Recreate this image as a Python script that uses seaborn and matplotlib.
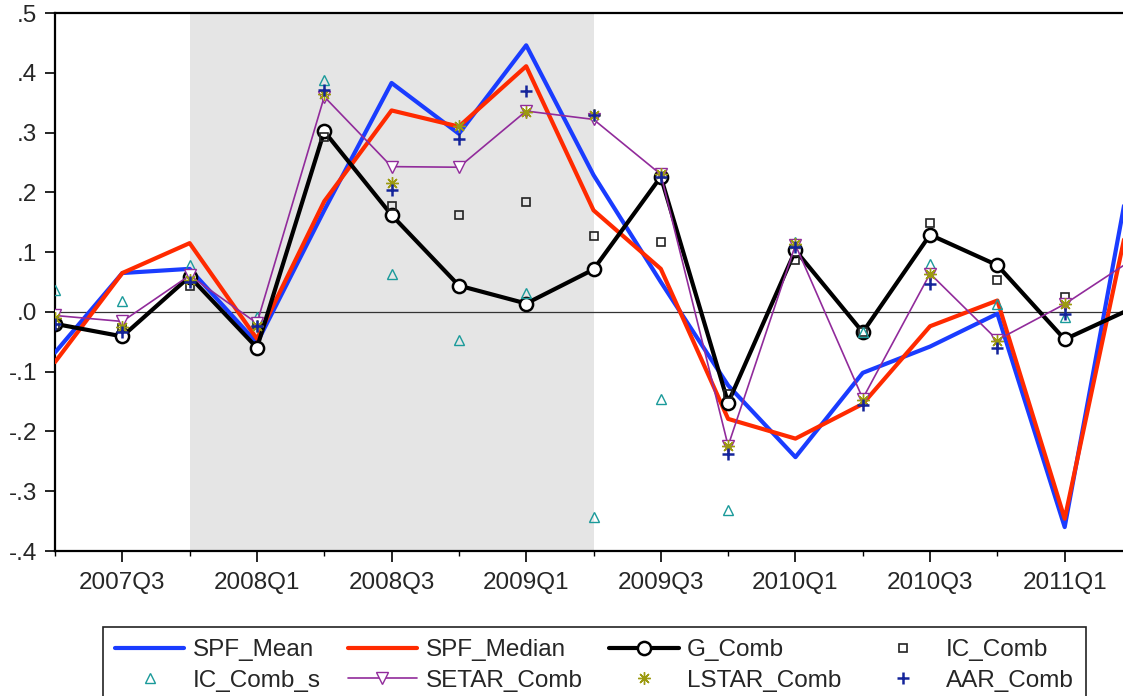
import numpy as np
import pandas as pd
import matplotlib
matplotlib.use("Agg")
import matplotlib.pyplot as plt
from matplotlib.lines import Line2D
from matplotlib.ticker import FixedLocator, FuncFormatter
import seaborn as sns

# ---------------- data ----------------
quarters = ["2007Q2", "2007Q3", "2007Q4", "2008Q1", "2008Q2", "2008Q3", "2008Q4",
            "2009Q1", "2009Q2", "2009Q3", "2009Q4", "2010Q1", "2010Q2", "2010Q3",
            "2010Q4", "2011Q1", "2011Q2"]

spf_mean = [-0.068, 0.065, 0.072, -0.052, 0.170, 0.383, 0.298, 0.446, 0.229, 0.050,
            -0.123, -0.243, -0.102, -0.058, -0.003, -0.360, 0.250]
spf_median = [-0.084, 0.065, 0.115, -0.045, 0.185, 0.337, 0.310, 0.411, 0.170, 0.072,
              -0.179, -0.212, -0.154, -0.024, 0.019, -0.346, 0.184]
g_comb = [-0.020, -0.041, 0.059, -0.060, 0.302, 0.162, 0.044, 0.014, 0.071, 0.226,
          -0.152, 0.103, -0.034, 0.129, 0.078, -0.046, 0.006]
ic_comb = [-0.022, -0.027, 0.044, -0.020, 0.293, 0.177, 0.162, 0.184, 0.127, 0.117,
           -0.137, 0.086, -0.034, 0.149, 0.053, 0.025]
ic_comb_s = [0.037, 0.019, 0.079, -0.009, 0.388, 0.064, -0.047, 0.031, -0.343, -0.145,
             -0.332, 0.117, -0.034, 0.080, 0.014, -0.008]
setar_comb = [-0.006, -0.016, 0.061, -0.019, 0.360, 0.243, 0.242, 0.336, 0.322, 0.230,
              -0.224, 0.112, -0.145, 0.064, -0.047, 0.013, 0.087]
lstar_comb = [-0.010, -0.025, 0.054, -0.023, 0.365, 0.216, 0.311, 0.335, 0.329, 0.230,
              -0.224, 0.114, -0.147, 0.064, -0.048, 0.013]
aar_comb = [-0.020, -0.034, 0.050, -0.023, 0.371, 0.204, 0.290, 0.370, 0.329, 0.226,
            -0.238, 0.109, -0.155, 0.047, -0.060, -0.003]

recession = ("2007Q4", "2009Q2")
tick_labels = ["2007Q3", "2008Q1", "2008Q3", "2009Q1", "2009Q3", "2010Q1", "2010Q3", "2011Q1"]
y_ticks = [0.5, 0.4, 0.3, 0.2, 0.1, 0.0, -0.1, -0.2, -0.3, -0.4]

# ---------------- style ----------------
sns.set_theme(style="ticks")
plt.rcParams["font.family"] = ["Liberation Sans", "DejaVu Sans"]
FS = 17.5

C_BLUE = "#1a3cff"
C_RED = "#ff2a00"
C_PURPLE = "#912b9b"
C_TEAL = "#1a9a9a"
C_OLIVE = "#9c9a10"
C_NAVY = "#14249a"

W, H = 1123, 696
fig = plt.figure(figsize=(W / 100, H / 100), dpi=100)
ax = fig.add_axes([55 / W, (H - 551) / H, (1132 - 55) / W, (551 - 13) / H])

pos = {q: i for i, q in enumerate(quarters)}

def frame(vals):
    return pd.DataFrame({"x": [pos[q] for q in quarters[:len(vals)]], "y": vals})

ax.axvspan(pos[recession[0]], pos[recession[1]], color="#e5e5e5", lw=0, zorder=0)
ax.axhline(0, color="#333333", lw=0.9, zorder=1)

d = frame(spf_mean)
sns.lineplot(data=d, x="x", y="y", ax=ax, color=C_BLUE, lw=3.0, zorder=3)
d = frame(spf_median)
sns.lineplot(data=d, x="x", y="y", ax=ax, color=C_RED, lw=3.0, zorder=4)
d = frame(g_comb)
sns.lineplot(data=d, x="x", y="y", ax=ax, color="black", lw=3.0, marker="o",
             markersize=9.5, markerfacecolor="white", markeredgecolor="black",
             markeredgewidth=1.8, zorder=5)
d = frame(ic_comb)
sns.lineplot(data=d, x="x", y="y", ax=ax, color="black", ls="none", marker="s",
             markersize=6, markerfacecolor="none", markeredgecolor="#222222",
             markeredgewidth=1.2, zorder=6)
d = frame(ic_comb_s)
sns.lineplot(data=d, x="x", y="y", ax=ax, color=C_TEAL, ls="none", marker="^",
             markersize=7, markerfacecolor="none", markeredgecolor=C_TEAL,
             markeredgewidth=1.0, zorder=7)
d = frame(setar_comb)
sns.lineplot(data=d, x="x", y="y", ax=ax, color=C_PURPLE, lw=1.2, marker="v",
             markersize=8, markerfacecolor="white", markeredgecolor=C_PURPLE,
             markeredgewidth=1.0, zorder=8)
d = frame(lstar_comb)
sns.lineplot(data=d, x="x", y="y", ax=ax, color=C_OLIVE, ls="none", marker=(8, 2, 0),
             markersize=9, markeredgecolor=C_OLIVE, markeredgewidth=1.0, zorder=9)
d = frame(aar_comb)
sns.lineplot(data=d, x="x", y="y", ax=ax, color=C_NAVY, ls="none", marker="+",
             markersize=9, markeredgecolor=C_NAVY, markeredgewidth=1.8, zorder=10)

# ---------------- axes ----------------
ax.set_xlim(0, 16)
ax.set_ylim(-0.4, 0.5)
ax.set_xlabel("")
ax.set_ylabel("")
ax.xaxis.set_major_locator(FixedLocator([pos[q] for q in tick_labels]))
ax.set_xticklabels(tick_labels)
ax.xaxis.set_minor_locator(FixedLocator(list(range(len(quarters)))))
ax.yaxis.set_major_locator(FixedLocator(y_ticks))

def yfmt(v, _):
    s = f"{v:.1f}"
    return s.replace("0.", ".")

ax.yaxis.set_major_formatter(FuncFormatter(yfmt))
ax.tick_params(axis="x", which="major", length=8, width=1.2, pad=7,
               labelsize=FS, direction="out", color="black")
ax.tick_params(axis="x", which="minor", length=3.5, width=1.0, direction="out",
               color="black")
ax.tick_params(axis="y", which="major", length=7, width=1.2, pad=6,
               labelsize=FS, direction="out", color="black")
for side in ["left", "bottom", "top", "right"]:
    ax.spines[side].set_visible(True)
    ax.spines[side].set_color("black")
    ax.spines[side].set_linewidth(1.6)

# ---------------- legend ----------------
h = {
    "SPF_Mean": Line2D([], [], color=C_BLUE, lw=3.0),
    "SPF_Median": Line2D([], [], color=C_RED, lw=3.0),
    "G_Comb": Line2D([], [], color="black", lw=3.0, marker="o", markersize=9.5,
                     markerfacecolor="white", markeredgecolor="black", markeredgewidth=1.8),
    "IC_Comb": Line2D([], [], ls="none", marker="s", markersize=6, markerfacecolor="none",
                      markeredgecolor="#222222", markeredgewidth=1.2),
    "IC_Comb_s": Line2D([], [], ls="none", marker="^", markersize=7, markerfacecolor="none",
                        markeredgecolor=C_TEAL, markeredgewidth=1.0),
    "SETAR_Comb": Line2D([], [], color=C_PURPLE, lw=1.2, marker="v", markersize=8,
                         markerfacecolor="white", markeredgecolor=C_PURPLE, markeredgewidth=1.0),
    "LSTAR_Comb": Line2D([], [], ls="none", marker=(8, 2, 0), markersize=9,
                         color=C_OLIVE, markeredgecolor=C_OLIVE, markeredgewidth=1.0),
    "AAR_Comb": Line2D([], [], ls="none", marker="+", markersize=9,
                       color=C_NAVY, markeredgecolor=C_NAVY, markeredgewidth=1.8),
}
order = ["SPF_Mean", "IC_Comb_s", "SPF_Median", "SETAR_Comb",
         "G_Comb", "LSTAR_Comb", "IC_Comb", "AAR_Comb"]
leg = fig.legend([h[k] for k in order], order, loc="upper center",
                 bbox_to_anchor=(594.5 / W, 1 - 627 / H), bbox_transform=fig.transFigure,
                 ncol=4, fontsize=FS, frameon=True, fancybox=False, shadow=False,
                 handlelength=2.85, handletextpad=0.35, columnspacing=1.1,
                 labelspacing=0.35, borderpad=0.5, borderaxespad=0, numpoints=1)
leg.get_frame().set_edgecolor("#222222")
leg.get_frame().set_linewidth(1.2)
leg.get_frame().set_alpha(1)

fig.savefig("out.png", dpi=100)
